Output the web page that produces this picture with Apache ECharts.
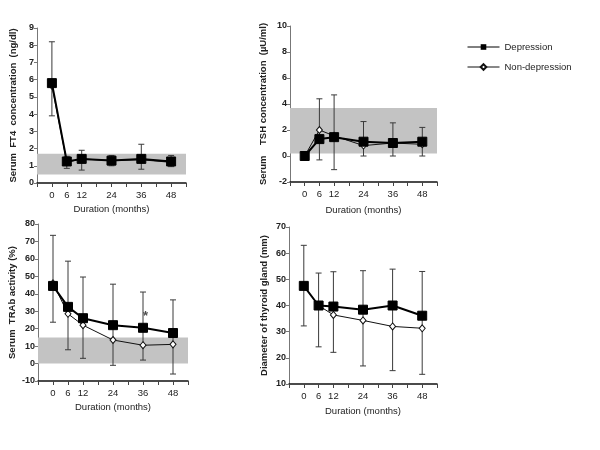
<!DOCTYPE html>
<html>
<head>
<meta charset="utf-8">
<script src="https://cdn.jsdelivr.net/npm/echarts@6/dist/echarts.min.js"></script>
<style>html,body{margin:0;padding:0;background:#fff;}#c{width:600px;height:450px;}</style>
</head>
<body>
<div id="c"></div>
<script>
// ---- data ----
const months = [0, 6, 12, 24, 36, 48];
const xTickLabels = [0, 6, 12, 24, 36, 48];

const ft4Dep = [5.8, 1.25, 1.4, 1.3, 1.4, 1.25];
const ft4Non = [5.65, 1.2, 1.4, 1.3, 1.35, 1.2];
const ft4ErrHigh = [8.2, 1.55, 1.9, 1.6, 2.25, 1.6];
const ft4ErrLow = [3.9, 0.85, 0.75, 1.0, 0.8, 0.95];
const ft4Band = [0.5, 1.7];

const tshDep = [0, 1.3, 1.45, 1.1, 1.0, 1.1];
const tshNon = [0, 2.0, 1.55, 0.8, 1.0, 0.9];
const tshErrHigh = [null, 4.4, 4.7, 2.65, 2.55, 2.2];
const tshErrLow = [null, -0.3, -1.05, 0.0, 0.0, 0.0];
const tshBand = [0.2, 3.7];

const trabDep = [44.5, 32.5, 26, 22, 20.5, 17.5];
const trabNon = [46, 28.5, 22, 13.5, 10.5, 11];
const trabErrHigh = [73.5, 58.7, 49.6, 45.5, 41, 36.5];
const trabErrLow = [23.7, 7.9, 3, -1, 2, -6];
const trabBand = [0, 15];
const trabStar = [37, 27];

const diamDep = [47.5, 40, 39.6, 38.4, 40, 36.1];
const diamNon = [47.5, 40, 36.4, 34.3, 32, 31.3];
const diamErrHigh = [63, 52.4, 52.9, 53.3, 53.9, 53];
const diamErrLow = [32.2, 24.2, 22.1, 16.9, 15.1, 13.7];

// ---- panels ----
const FONT = '"Liberation Sans", Arial, sans-serif';
const panels = [
  { grid: {left: 37, top: 28, width: 149, height: 155}, ymin: 0, ymax: 9, yint: 1,
    yname: 'Serum  FT4  concentration  (ng/dl)', ygap: 19, xgap: 21,
    dep: ft4Dep, non: ft4Non, hi: ft4ErrHigh, lo: ft4ErrLow, band: ft4Band },
  { grid: {left: 290, top: 26, width: 147, height: 156}, ymin: -2, ymax: 10, yint: 2,
    yname: 'Serum    TSH concentration  (\u00b5U/ml)', ygap: 22, xgap: 23,
    dep: tshDep, non: tshNon, hi: tshErrHigh, lo: tshErrLow, band: tshBand },
  { grid: {left: 38, top: 224, width: 150, height: 157}, ymin: -10, ymax: 80, yint: 10,
    yname: 'Serum  TRAb activity (%)', ygap: 21, xgap: 21,
    dep: trabDep, non: trabNon, hi: trabErrHigh, lo: trabErrLow, band: trabBand },
  { grid: {left: 289, top: 227, width: 148, height: 157}, ymin: 10, ymax: 70, yint: 10,
    yname: 'Diameter of thyroid gland (mm)', ygap: 20, xgap: 22,
    dep: diamDep, non: diamNon, hi: diamErrHigh, lo: diamErrLow, band: null }
];

function errRender(params, api) {
  const x = api.value(0), lo = api.value(1), hi = api.value(2);
  const a = api.coord([x, lo]), b = api.coord([x, hi]);
  const w = 3, st = {stroke: '#3a3a3a', lineWidth: 1};
  return {type: 'group', children: [
    {type: 'line', shape: {x1: a[0], y1: a[1], x2: b[0], y2: b[1]}, style: st},
    {type: 'line', shape: {x1: b[0] - w, y1: b[1], x2: b[0] + w, y2: b[1]}, style: st},
    {type: 'line', shape: {x1: a[0] - w, y1: a[1], x2: a[0] + w, y2: a[1]}, style: st}
  ]};
}

const grids = [], xAxes = [], yAxes = [], series = [];
panels.forEach((p, i) => {
  grids.push(p.grid);
  xAxes.push({
    type: 'value', gridIndex: i, min: -6, max: 54, interval: 6,
    name: 'Duration (months)', nameLocation: 'middle', nameGap: p.xgap,
    nameTextStyle: {fontSize: 9.5, color: '#222', fontFamily: FONT},
    axisLine: {show: true, onZero: false, lineStyle: {color: '#111', width: 1.5}},
    axisTick: {show: true, length: 4, lineStyle: {color: '#444'}},
    axisLabel: {fontSize: 9.5, color: '#222', fontFamily: FONT, margin: 7,
      formatter: v => xTickLabels.includes(v) ? String(v) : ''},
    splitLine: {show: false}
  });
  yAxes.push({
    type: 'value', gridIndex: i, min: p.ymin, max: p.ymax, interval: p.yint,
    name: p.yname, nameLocation: 'middle', nameGap: p.ygap,
    nameTextStyle: {fontSize: 9.5, fontWeight: 'bold', color: '#222', fontFamily: FONT},
    axisLine: {show: true, onZero: false, lineStyle: {color: '#777', width: 1}},
    axisTick: {show: true, length: 3, lineStyle: {color: '#777'}},
    axisLabel: {fontSize: 9, fontWeight: 'bold', color: '#222', fontFamily: FONT, margin: 3},
    splitLine: {show: false}
  });
  if (p.band) {
    series.push({
      type: 'line', xAxisIndex: i, yAxisIndex: i, data: [], z: 1, silent: true,
      markArea: {silent: true, itemStyle: {color: '#c3c3c3'},
        data: [[{yAxis: p.band[0]}, {yAxis: p.band[1]}]]}
    });
  }
  const errData = [];
  months.forEach((m, k) => { if (p.hi[k] != null) errData.push([m, p.lo[k], p.hi[k]]); });
  series.push({
    type: 'custom', xAxisIndex: i, yAxisIndex: i, z: 2, silent: true,
    renderItem: errRender, encode: {x: 0, y: [1, 2]}, data: errData
  });
  series.push({
    name: 'Non-depression', type: 'line', xAxisIndex: i, yAxisIndex: i, z: 3,
    data: months.map((m, k) => [m, p.non[k]]),
    symbol: 'diamond', symbolSize: [6, 7], showAllSymbol: true,
    lineStyle: {color: '#111', width: 1},
    itemStyle: {color: '#fff', borderColor: '#111', borderWidth: 1},
    animation: false
  });
  series.push({
    name: 'Depression', type: 'line', xAxisIndex: i, yAxisIndex: i, z: 4,
    data: months.map((m, k) => [m, p.dep[k]]),
    symbol: 'rect', symbolSize: 9,
    lineStyle: {color: '#000', width: 2},
    itemStyle: {color: '#000', borderColor: '#000'},
    animation: false
  });
});

// significance star on TRAb panel
series.push({
  type: 'scatter', xAxisIndex: 2, yAxisIndex: 2, z: 5, symbolSize: 1,
  itemStyle: {color: 'transparent'},
  data: [trabStar],
  label: {show: true, position: 'inside', formatter: '*', fontSize: 13, fontWeight: 'bold',
    color: '#222', fontFamily: FONT}
});

const chart = echarts.init(document.getElementById('c'), null, {renderer: 'canvas'});
chart.setOption({
  animation: false,
  backgroundColor: '#fff',
  textStyle: {fontFamily: FONT},
  legend: {
    data: ['Depression', 'Non-depression'],
    orient: 'vertical', left: 462, top: 37,
    itemWidth: 32, itemHeight: 7, itemGap: 10,
    lineStyle: {width: 1},
    textStyle: {fontSize: 9.5, color: '#222', fontFamily: FONT}
  },
  grid: grids, xAxis: xAxes, yAxis: yAxes, series: series
});
</script>
</body>
</html>
